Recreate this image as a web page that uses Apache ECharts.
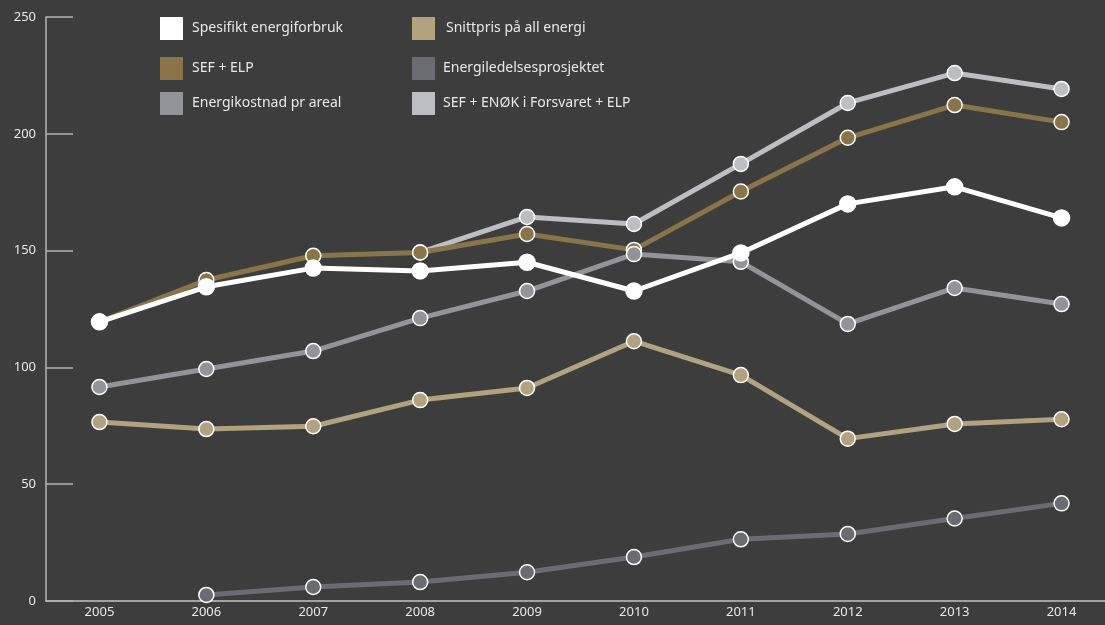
<!DOCTYPE html>
<html>
<head>
<meta charset="utf-8">
<script src="https://cdn.jsdelivr.net/npm/echarts@6/dist/echarts.min.js"></script>
<style>
  html, body { margin: 0; padding: 0; background: #3d3d3d; }
  #chart { width: 1105px; height: 625px; }
</style>
</head>
<body>
<div id="chart"></div>
<script>
// Years on the category axis
const years = ['2005', '2006', '2007', '2008', '2009', '2010', '2011', '2012', '2013', '2014'];

// Index series (null = no value that year)
const spesifiktEnergiforbruk = [119.5, 134.5, 142.5, 141.3, 145, 132.7, 149, 170, 177.3, 164];
const sefElp = [119.5, 137.4, 147.8, 149.2, 157.1, 150.3, 175.3, 198.3, 212.3, 205];
const energikostnadPrAreal = [91.6, 99.3, 107, 121.1, 132.7, 148.5, 145.2, 118.6, 134, 127.1];
const snittprisAllEnergi = [76.6, 73.6, 74.8, 86, 91.2, 111.2, 96.7, 69.5, 75.8, 77.8];
const energiledelsesprosjektet = [null, 2.6, 6, 8.1, 12.3, 18.8, 26.4, 28.7, 35.3, 41.8];
const sefEnokForsvaretElp = [null, null, null, 149.2, 164.4, 161.4, 187.1, 213.2, 226, 219.2];

// Y axis range and step
const yMin = 0, yMax = 250, yStep = 50;

const names = {
  spes: 'Spesifikt energiforbruk',
  sef: 'SEF + ELP',
  kost: 'Energikostnad pr areal',
  snitt: 'Snittpris på all energi',
  eled: 'Energiledelsesprosjektet',
  enok: 'SEF + ENØK i Forsvaret + ELP'
};

const colors = {
  spes: '#ffffff',
  sef: '#8b7548',
  kost: '#939498',
  snitt: '#b3a27e',
  eled: '#6b6c71',
  enok: '#bdbec2'
};

function lineSeries(key, data, z) {
  return {
    name: names[key],
    type: 'line',
    data: data,
    z: z,
    symbol: 'circle',
    symbolSize: key === 'spes' ? 16 : 15,
    connectNulls: false,
    lineStyle: { color: colors[key], width: 5 },
    itemStyle: { color: colors[key], borderColor: '#ffffff', borderWidth: 1.5 },
    emphasis: { disabled: true },
    animation: false
  };
}

function legendItem(key, left, top, pad) {
  return {
    data: [names[key]],
    left: left,
    top: top,
    padding: 0,
    icon: 'rect',
    itemWidth: 23,
    itemHeight: 23,
    itemStyle: { borderWidth: 0 },
    textStyle: {
      color: '#e8e8e8',
      fontSize: 14,
      fontFamily: 'Noto Sans',
      padding: [0, 0, 0, pad]
    },
    selectedMode: false
  };
}

const chart = echarts.init(document.getElementById('chart'));
chart.setOption({
  backgroundColor: '#3d3d3d',
  animation: false,
  // the last category runs past the right edge of the canvas
  grid: { left: 46, width: 1069, top: 17, bottom: 24, containLabel: false, outerBoundsMode: 'none' },
  legend: [
    legendItem('spes', 160, 17, 4),
    legendItem('sef', 160, 57, 4),
    legendItem('kost', 160, 92, 4),
    legendItem('snitt', 412, 17, 6),
    legendItem('eled', 412, 57, 3),
    legendItem('enok', 412, 92, 3)
  ],
  xAxis: {
    type: 'category',
    data: years,
    boundaryGap: true,
    axisLine: { lineStyle: { color: '#c4c4c4', width: 1.5 } },
    axisTick: { inside: true, length: 15, lineStyle: { color: '#c4c4c4', width: 1 } },
    axisLabel: { color: '#e8e8e8', fontSize: 13, fontFamily: 'Noto Sans', margin: 5 },
    splitLine: { show: false }
  },
  yAxis: {
    type: 'value',
    min: yMin,
    max: yMax,
    interval: yStep,
    axisLine: { show: true, lineStyle: { color: '#b4b4b4', width: 1.5 } },
    axisTick: { show: true, inside: true, length: 27, lineStyle: { color: '#b4b4b4', width: 1.5 } },
    axisLabel: { color: '#e8e8e8', fontSize: 13, fontFamily: 'Noto Sans', margin: 10 },
    splitLine: { show: false }
  },
  series: [
    lineSeries('enok', sefEnokForsvaretElp, 2),
    lineSeries('snitt', snittprisAllEnergi, 3),
    lineSeries('eled', energiledelsesprosjektet, 4),
    lineSeries('sef', sefElp, 5),
    lineSeries('kost', energikostnadPrAreal, 6),
    lineSeries('spes', spesifiktEnergiforbruk, 7)
  ]
});
</script>
</body>
</html>
